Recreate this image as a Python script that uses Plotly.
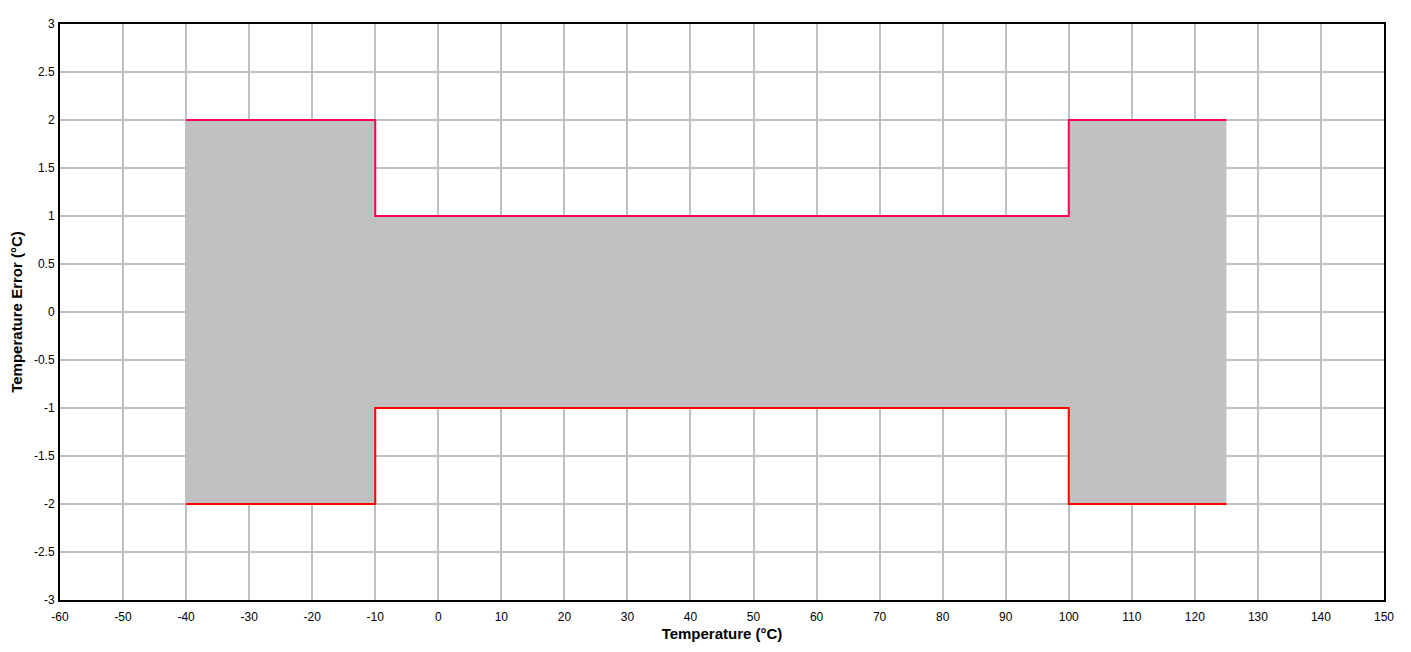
import plotly.graph_objs as go

# step limits of the temperature error band
temp = [-40, -10, 100, 125]
upper_err = [2, 1, 2, 2]
lower_err = [-2, -1, -2, -2]

x_ticks = list(range(-60, 151, 10))
y_ticks = [-3, -2.5, -2, -1.5, -1, -0.5, 0, 0.5, 1, 1.5, 2, 2.5, 3]
y_labels = ["-3", "-2.5", "-2", "-1.5", "-1", "-0.5", "0", "0.5", "1", "1.5", "2", "2.5", "3"]
x_labels = [str(v) for v in x_ticks]

fig = go.Figure()

fig.add_trace(go.Scatter(x=temp, y=lower_err, mode='lines', line_shape='hv',
                         line=dict(color='#FF0000', width=2), name='min'))
fig.add_trace(go.Scatter(x=temp, y=upper_err, mode='lines', line_shape='hv',
                         line=dict(color='#FF0055', width=2), fill='tonexty',
                         fillcolor='#C0C0C0', name='max'))

axis_common = dict(showgrid=True, gridcolor='#C0C0C0', gridwidth=2,
                   showline=True, linecolor='black', linewidth=2, mirror=True,
                   zeroline=False, ticks='', automargin=False,
                   tickfont=dict(family='Arial, Liberation Sans', size=12, color='black'))

fig.update_xaxes(range=[-60, 150], tickvals=x_ticks, ticktext=x_labels, ticklabelstandoff=5,
                 title=dict(text='<b>Temperature (°C)</b>', font=dict(family='Arial, Liberation Sans', size=15, color='black'), standoff=5),
                 **axis_common)
fig.update_yaxes(range=[-3, 3], tickvals=y_ticks, ticktext=y_labels, ticklabelstandoff=1,
                 title=dict(text='<b>Temperature Error (°C)</b>', font=dict(family='Arial, Liberation Sans', size=15, color='black'), standoff=14),
                 **axis_common)

# the page body adds an 8px offset, so the figure is sized to compensate
fig.update_layout(width=1403, height=644, showlegend=False,
                  plot_bgcolor='white', paper_bgcolor='white',
                  margin=dict(l=52, r=27, t=16, b=52))

fig.write_html("out.html")
